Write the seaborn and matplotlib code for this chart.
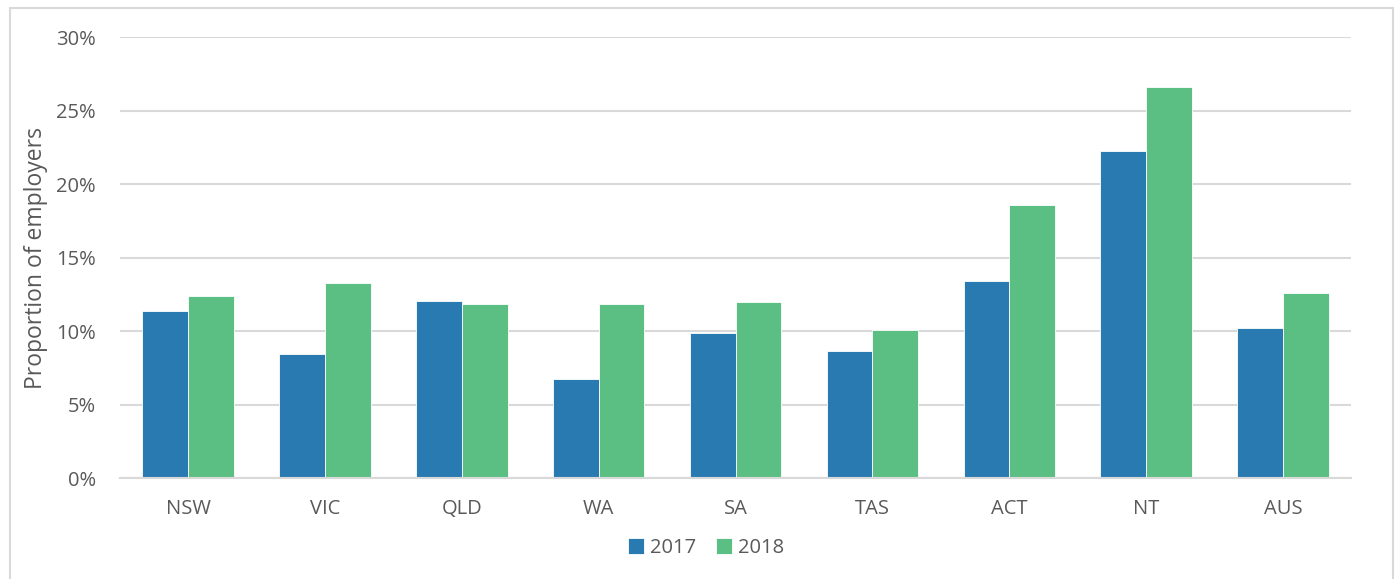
import pandas as pd
import matplotlib
matplotlib.use("Agg")
import matplotlib.pyplot as plt
import matplotlib.patches as mpatches
import seaborn as sns
from matplotlib.ticker import FuncFormatter, MultipleLocator

states = ["NSW", "VIC", "QLD", "WA", "SA", "TAS", "ACT", "NT", "AUS"]
years = ["2017", "2018"]
share_2017 = [11.34, 8.45, 12.04, 6.75, 9.9, 8.62, 13.43, 22.28, 10.23]
share_2018 = [12.35, 13.26, 11.85, 11.83, 11.99, 10.1, 18.56, 26.63, 12.57]

colours = {"2017": "#2A7AB2", "2018": "#5BBF83"}
grey_text = "#595959"

df = pd.DataFrame({
    "state": states * 2,
    "year": [years[0]] * len(states) + [years[1]] * len(states),
    "share": share_2017 + share_2018,
})

sns.set_style("white")
plt.rcParams["font.family"] = ["Open Sans", "DejaVu Sans"]

fig = plt.figure(figsize=(13.98, 5.79), dpi=100)
ax = fig.add_axes([0.0856, 0.1744, 0.8811, 0.7616])

sns.barplot(data=df, x="state", y="share", hue="year", order=states,
            hue_order=years, palette=colours, width=0.668, saturation=1,
            edgecolor="white", linewidth=0.6, ax=ax)

ax.set_ylim(0, 30)
ax.set_xlim(-0.5, len(states) - 0.5)
ax.yaxis.set_major_locator(MultipleLocator(5))
ax.yaxis.set_major_formatter(FuncFormatter(lambda v, p: f"{v:.0f}%"))
ax.grid(axis="y", color="#D9D9D9", linewidth=1.5)
ax.set_axisbelow(True)
for side in ["top", "right", "left"]:
    ax.spines[side].set_visible(False)
ax.spines["bottom"].set_color("#D9D9D9")
ax.spines["bottom"].set_linewidth(1.5)
ax.tick_params(axis="both", length=0, labelsize=14.5, colors=grey_text)
ax.tick_params(axis="x", pad=15)
ax.tick_params(axis="y", pad=17)
ax.set_xlabel("")
ax.set_ylabel("Proportion of employers", fontsize=16.5, color=grey_text, labelpad=6)

ax.legend(loc="upper center", bbox_to_anchor=(0.476, -0.095), ncol=2, frameon=False,
          fontsize=14.5, handlelength=0.8, handleheight=0.8, handletextpad=0.3,
          columnspacing=1.0, labelcolor=grey_text)

fig.patches.append(mpatches.Rectangle((10 / 1398, -0.05), 1383 / 1398, 1.05 - 8 / 579,
                                      transform=fig.transFigure, fill=False,
                                      edgecolor="#D9D9D9", linewidth=1.5))

fig.savefig("out.png", dpi=100)
